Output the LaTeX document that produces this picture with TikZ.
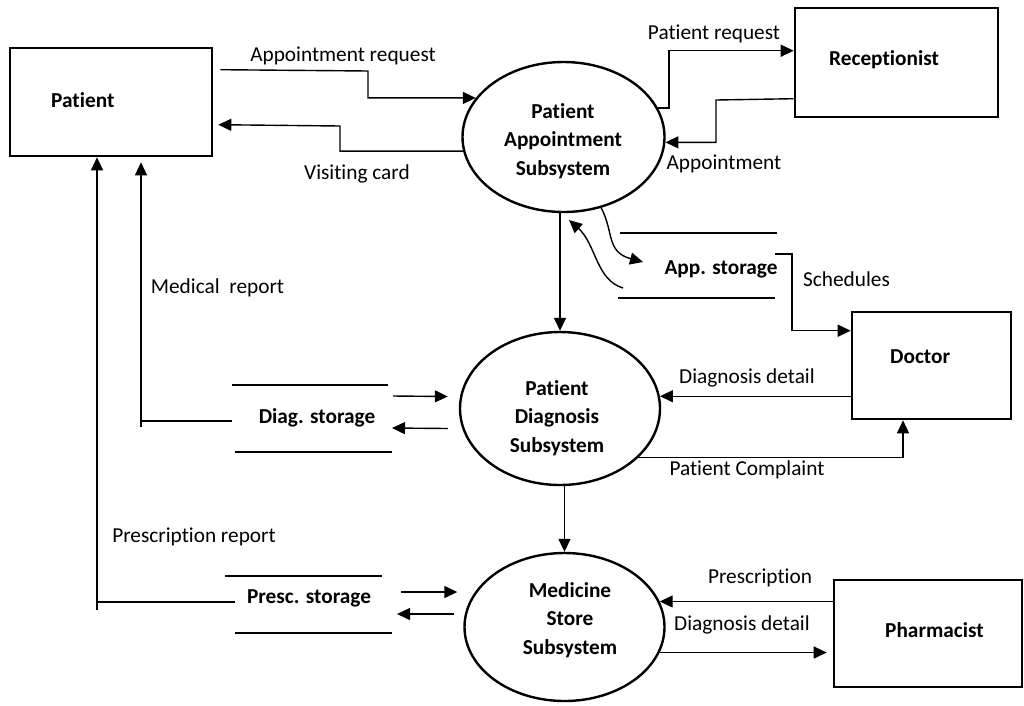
\documentclass[tikz,border=0pt]{standalone}
\usepackage{fontspec}
\setmainfont{Carlito}[Ligatures=NoCommon]
\usetikzlibrary{arrows.meta,calc,shapes.geometric}
\begin{document}
\begin{tikzpicture}[x=1pt,y=-1pt,
  box/.style={draw,line width=2.6pt,inner sep=0pt},
  proc/.style={draw,ellipse,line width=2.4pt,inner sep=0pt},
  flow/.style={line width=1.4pt,-{Triangle[length=13pt,width=12pt]}},
  plain/.style={line width=1.4pt},
  lbl/.style={font=\fontsize{21.3}{25}\selectfont,anchor=base,inner sep=0pt},
  blbl/.style={font=\fontsize{21.3}{25}\selectfont\bfseries,inner sep=0pt},
  ptext/.style={font=\fontsize{21.3}{28.5}\selectfont\bfseries,align=center,inner sep=0pt}]
\useasboundingbox (0,0) rectangle (1024,705);

% external entities
\node[box,minimum width=202pt,minimum height=108pt] (pat) at (111,102) {};
\node[blbl,anchor=base west] (patt) at (51,107) {Patient};
\node[box,minimum width=203pt,minimum height=109pt] (rec) at (896.5,62.5) {};
\node[blbl,anchor=base west] (rect) at (829,65) {Receptionist};
\node[box,minimum width=159pt,minimum height=107pt] (doc) at (931.5,365.5) {};
\node[blbl,anchor=base west] (doct) at (890,363) {Doctor};
\node[box,minimum width=188pt,minimum height=107pt] (pha) at (928,633.5) {};
\node[blbl,anchor=base west] (phat) at (885,637) {Pharmacist};

% processes
\node[proc,minimum width=202pt,minimum height=150pt] (e1) at (563.5,137) {};
\node[ptext] (e1t) at (563,141) {Patient\\Appointment\\Subsystem};
\node[proc,minimum width=200pt,minimum height=153pt] (e2) at (560,408.5) {};
\node[ptext] (e2t) at (557,418) {Patient\\Diagnosis\\Subsystem};
\node[proc,minimum width=200pt,minimum height=148pt] (e3) at (564.5,627) {};
\node[ptext] (e3t) at (570,620) {Medicine\\Store\\Subsystem};

% data stores
\node[blbl,anchor=base] (app) at (721,274) {App. storage};
\draw[plain] (620,233) -- (777,233);
\draw[plain] (618,298) -- (775,298);
\node[blbl,anchor=base] (diag) at (317,423) {Diag. storage};
\draw[plain] (232,385) -- (388,385);
\draw[plain] (235,452) -- (392,452);
\node[blbl,anchor=base] (presc) at (309,603) {Presc. storage};
\draw[plain] (225,576) -- (382,576);
\draw[plain] (235,633) -- (392,633);

% Patient <-> Appointment subsystem
\draw[flow] ([shift={(7,23)}]pat.north east) -- (368,71) |- (e1.156);
\node[lbl] (l1) at (343,61) {Appointment request};
\draw[flow] (e1.188) -| (340,126) -- ([shift={(5,78)}]pat.north east);
\node[lbl] (l2) at (357,179) {Visiting card};

% Appointment subsystem <-> Receptionist
\draw[flow] (e1.17) -- ++(11,0) |- ([shift={(0,44)}]rec.north west);
\node[lbl] (l3) at (714,39) {Patient request};
\draw[flow] ([shift={(0,92)}]rec.north west) -- (716,100) |- (e1.-3);
\node[lbl] (l4) at (724,169) {Appointment};

% Appointment subsystem <-> App. storage
\coordinate (c1end) at (643,262);
\draw[flow] (e1.-62) .. controls (614,232) and (606,252) .. (c1end);
\coordinate (c2start) at (623,288);
\coordinate (c2end) at (569,220);
\draw[flow] (c2start) .. controls (596,280) and (596,244) .. (c2end);

% App. storage -> Doctor
\coordinate (sch) at (775,254);
\draw[flow] (sch) -- (792,254) |- ([shift={(0,20)}]doc.north west);
\node[lbl] (l5) at (846.5,286) {Schedules};

% Appointment -> Diagnosis
\draw[flow] (e2.north |- e1.south) -- (e2.north);

% Doctor <-> Diagnosis subsystem
\draw[flow] (e2.7 -| doc.west) -- (e2.7);
\node[lbl] (l6) at (747,383) {Diagnosis detail};
\draw[flow] (e2.-32) -| ([shift={(-28.5,0)}]doc.south);
\node[lbl] (l7) at (747,475) {Patient Complaint};

% Diag. storage <-> Diagnosis subsystem
\draw[flow] ([shift={(76,-27)}]diag.base) -- ([shift={(-11,-12)}]e2.west);
\draw[flow] ([shift={(-11,20)}]e2.west) -- ([shift={(75,5)}]diag.base);

% Medical report
\coordinate (mr) at (141,421);
\draw[plain] ([shift={(-85,-2)}]diag.base) -- (mr);
\draw[flow] (141,427) -- ([shift={(30,5)}]pat.south);
\node[lbl] (l8) at (217.5,293) {Medical\ \ report};

% Prescription report
\coordinate (pr) at (97,602);
\draw[plain] ([shift={(-74,-1)}]presc.base) -- (pr);
\draw[flow] (97,610) -- ([shift={(-14,0)}]pat.south);
\node[lbl] (l9) at (194,542) {Prescription report};

% Diagnosis -> Medicine store
\draw[flow] (e3.north |- e2.south) -- (e3.north);

% Presc. storage <-> Medicine store
\draw[flow] ([shift={(92,-11)}]presc.base) -- ([shift={(-6,-35)}]e3.west);
\draw[flow] ([shift={(-9,-13)}]e3.west) -- ([shift={(88,11)}]presc.base);

% Pharmacist <-> Medicine store
\draw[flow] (e3.15 -| pha.west) -- (e3.15);
\node[lbl] (l10) at (760,583) {Prescription};
\draw[flow] (e3.-15) -- ([shift={(-6,0)}]e3.-15 -| pha.west);
\node[lbl] (l11) at (742,630) {Diagnosis detail};
\end{tikzpicture}
\end{document}
